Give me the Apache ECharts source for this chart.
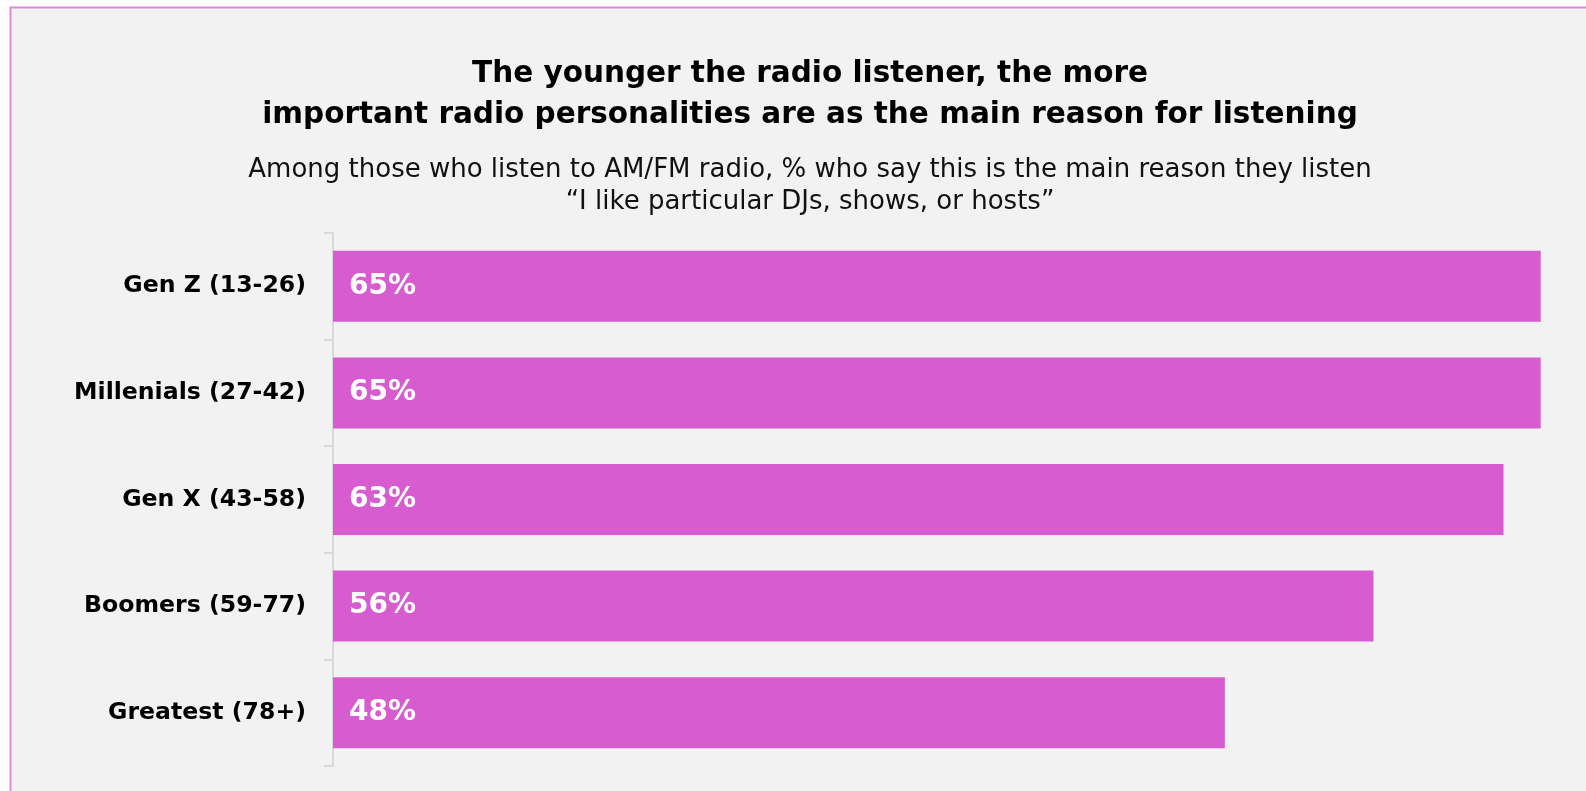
<!DOCTYPE html>
<html>
<head>
<meta charset="utf-8">
<script src="https://cdn.jsdelivr.net/npm/echarts@6/dist/echarts.min.js"></script>
<style>
html,body{margin:0;padding:0;background:#ffffff;}
#chart{width:1586px;height:791px;}
</style>
</head>
<body>
<div id="chart"></div>
<script>
const categories = ["Gen Z (13-26)", "Millenials (27-42)", "Gen X (43-58)", "Boomers (59-77)", "Greatest (78+)"];
const values = [65, 65, 63, 56, 48];
const titleText = "The younger the radio listener, the more\nimportant radio personalities are as the main reason for listening";
const subtitleText = "Among those who listen to AM/FM radio, % who say this is the main reason they listen\n\u201CI like particular DJs, shows, or hosts\u201D";

const FONT = '"DejaVu Sans", sans-serif';
const chart = echarts.init(document.getElementById('chart'));
chart.setOption({
  backgroundColor: 'transparent',
  animation: false,
  graphic: [{
    type: 'rect', z: -10, silent: true,
    shape: {x: 10.5, y: 7.5, width: 1600, height: 820},
    style: {fill: '#f2f2f2', stroke: '#dd88dd', lineWidth: 2}
  }],
  title: [{
    text: titleText,
    left: 805, top: 49, textAlign: 'center',
    textStyle: {fontFamily: FONT, fontWeight: 'bold', fontSize: 29.5, lineHeight: 41, color: '#000000'}
  }, {
    text: subtitleText,
    left: 805, top: 149, textAlign: 'center',
    textStyle: {fontFamily: FONT, fontWeight: 'normal', fontSize: 26, lineHeight: 32, color: '#111111'}
  }],
  grid: {left: 333, right: 45.3, top: 233, bottom: 25},
  xAxis: {type: 'value', min: 0, max: 65, show: false},
  yAxis: {
    type: 'category', data: categories, inverse: true,
    axisLine: {show: true, lineStyle: {color: '#d9d9d9', width: 2}},
    axisTick: {show: true, length: 9, lineStyle: {color: '#d9d9d9', width: 2}},
    axisLabel: {margin: 27, fontFamily: FONT, fontWeight: 'bold', fontSize: 23.6, color: '#000000'}
  },
  series: [{
    type: 'bar', data: values, barWidth: 71,
    itemStyle: {color: '#d65cd0'},
    label: {show: true, position: 'insideLeft', distance: 16, formatter: '{c}%',
      fontFamily: FONT, fontWeight: 'bold', fontSize: 28, color: '#ffffff'}
  }]
});
</script>
</body>
</html>
